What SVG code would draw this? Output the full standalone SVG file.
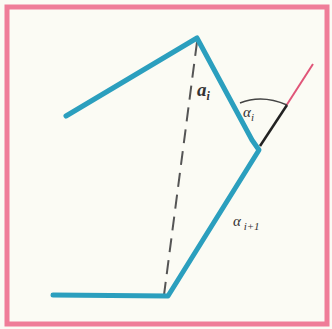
<svg xmlns="http://www.w3.org/2000/svg" width="332" height="329" viewBox="0 0 332 329">
<style>
.poly{fill:none;stroke:#2b9fbe;stroke-width:5;stroke-linecap:round;stroke-linejoin:round}
.lbl{font-family:"Liberation Serif",serif;font-style:italic;fill:#333}
</style>
<rect width="332" height="329" fill="#fbfbf4"/>
<rect x="7" y="7" width="320" height="317" fill="none" stroke="#ef7d98" stroke-width="5"/>
<g id="connectors">
<line x1="197" y1="42" x2="164" y2="295" stroke="#555" stroke-width="2" stroke-dasharray="14,8"/>
<line x1="286" y1="106" x2="313" y2="64" stroke="#e05578" stroke-width="2"/>
<line x1="260" y1="146" x2="287" y2="105" stroke="#222" stroke-width="2.5"/>
<path d="M240 103 Q262 94 287 105" fill="none" stroke="#444" stroke-width="1.5"/>
</g>
<g id="polyline">
<polyline class="poly" points="66,116 197,38 252,140 259,150 168,296 53,295"/>
</g>
<g id="labels">
<text class="lbl" x="197" y="96" font-size="19" font-weight="bold">a<tspan font-size="12" dy="4">i</tspan></text>
<text class="lbl" x="243" y="117" font-size="15">α<tspan font-size="11" dy="4">i</tspan></text>
<text class="lbl" x="233" y="226" font-size="15">α<tspan font-size="11" dy="4"> i+1</tspan></text>
</g>
</svg>
